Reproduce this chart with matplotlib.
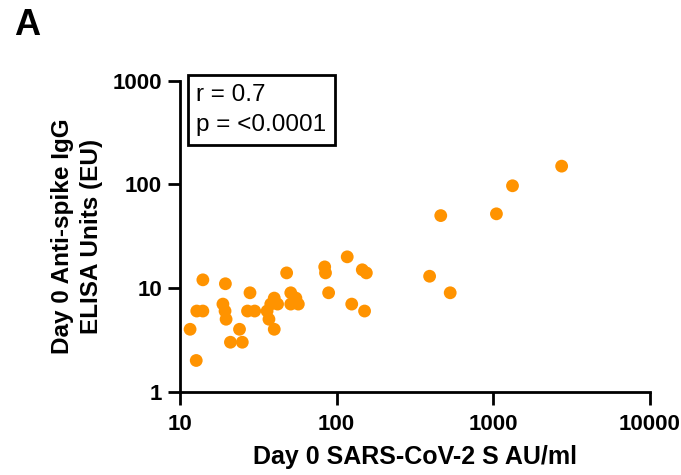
import matplotlib.pyplot as plt
from matplotlib.ticker import FixedLocator, NullLocator

plt.rcParams['font.family'] = ['Liberation Sans', 'DejaVu Sans']

# Day 0 SARS-CoV-2 S AU/ml vs Day 0 anti-spike IgG (EU)
s_au_ml = [11.6, 12.7, 14.0, 12.8, 14.0, 19.5, 18.8, 19.4, 19.7, 21.0,
           25.0, 24.0, 27.0, 30.0, 28.0, 36.0, 37.0, 40.0, 40.0, 38.0,
           42.0, 48.0, 51.0, 51.0, 55.0, 57.0, 84.0, 85.0, 89.0, 117.0,
           146.0, 155.0, 125.0, 151.0, 2740.0, 1330.0, 463.0, 1050.0, 393.0, 532.0]
igg_eu = [4.0, 2.0, 12.0, 6.0, 6.0, 11.0, 7.0, 6.0, 5.0, 3.0,
          3.0, 4.0, 6.0, 6.0, 9.0, 6.0, 5.0, 4.0, 8.0, 7.0,
          7.0, 14.0, 9.0, 7.0, 8.0, 7.0, 16.0, 14.0, 9.0, 20.0,
          15.0, 14.0, 7.0, 6.0, 150.0, 97.0, 50.0, 52.0, 13.0, 9.0]

x_ticks = [10, 100, 1000, 10000]
y_ticks = [1, 10, 100, 1000]

fig = plt.figure(figsize=(6.81, 4.75), dpi=100)
ax = fig.add_axes([0.2643, 0.1754, 0.6897, 0.6546])

ax.scatter(s_au_ml, igg_eu, s=85, color='#FF9300', edgecolors='none', clip_on=False, zorder=3)

ax.set_xscale('log')
ax.set_yscale('log')
ax.set_xlim(10, 10000)
ax.set_ylim(1, 1000)
ax.xaxis.set_major_locator(FixedLocator(x_ticks))
ax.yaxis.set_major_locator(FixedLocator(y_ticks))
ax.xaxis.set_minor_locator(NullLocator())
ax.yaxis.set_minor_locator(NullLocator())
ax.set_xticklabels([str(t) for t in x_ticks])
ax.set_yticklabels([str(t) for t in y_ticks])

for side in ['top', 'right']:
    ax.spines[side].set_visible(False)
for side in ['left', 'bottom']:
    ax.spines[side].set_linewidth(2.0)
ax.tick_params(width=2.0, length=9, labelsize=16, direction='out')
ax.tick_params(axis='x', pad=7)
ax.tick_params(axis='y', pad=4)
for lab in ax.get_xticklabels() + ax.get_yticklabels():
    lab.set_fontweight('bold')

ax.set_xlabel('Day 0 SARS-CoV-2 S AU/ml', fontsize=18, fontweight='bold', labelpad=7)
ax.set_ylabel('Day 0 Anti-spike IgG\nELISA Units (EU)', fontsize=17.5, fontweight='bold',
              labelpad=7, linespacing=1.3)

ax.text(0.035, 0.991, 'r = 0.7\np = <0.0001', transform=ax.transAxes, fontsize=17.5,
        va='top', ha='left', linespacing=1.5, zorder=4,
        bbox=dict(boxstyle='square,pad=0.35', facecolor='white', edgecolor='black', linewidth=2.0))

fig.text(0.02, 0.926, 'A', fontsize=26, fontweight='bold', va='baseline', ha='left')

fig.savefig('out.png', dpi=100)
